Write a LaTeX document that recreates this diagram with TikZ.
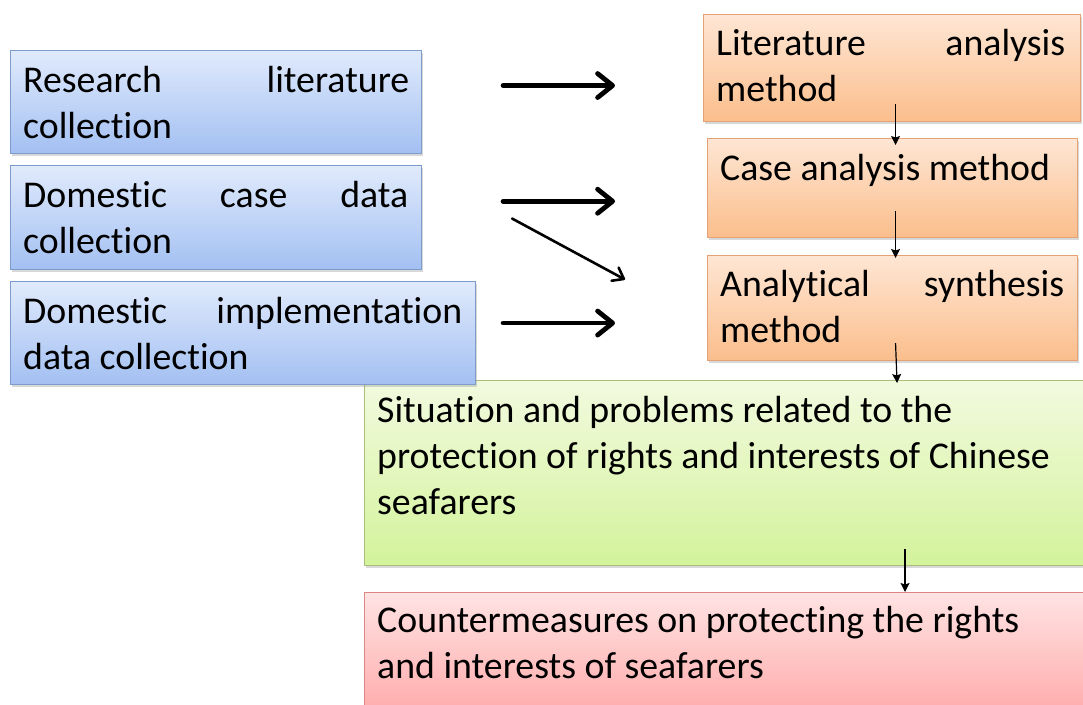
\documentclass[tikz,border=0pt]{standalone}
\usepackage{fontspec}
\setmainfont[Ligatures=NoCommon]{Carlito}
\usetikzlibrary{arrows.meta,shadows,calc}
\definecolor{bluetop}{HTML}{E0EAFC}
\definecolor{bluebot}{HTML}{A3C0F2}
\definecolor{blueedge}{HTML}{7E9CCB}
\definecolor{orgtop}{HTML}{FEE6D4}
\definecolor{orgbot}{HTML}{FBBE8C}
\definecolor{orgedge}{HTML}{E5A274}
\definecolor{grntop}{HTML}{F2FADF}
\definecolor{grnbot}{HTML}{D3F39B}
\definecolor{grnedge}{HTML}{A9BF7A}
\definecolor{redtop}{HTML}{FFE3E3}
\definecolor{redbot}{HTML}{FFA9A9}
\definecolor{rededge}{HTML}{DE8585}
\begin{document}
\begin{tikzpicture}[x=1pt,y=-1pt,
  box/.style={draw, line width=1.1pt, inner sep=0pt, anchor=north west,
    drop shadow={shadow xshift=1.5pt,shadow yshift=-2pt,opacity=0.3}},
  bluebox/.style={box, draw=blueedge, top color=bluetop, bottom color=bluebot},
  orgbox/.style={box, draw=orgedge, top color=orgtop, bottom color=orgbot},
  grnbox/.style={box, draw=grnedge, top color=grntop, bottom color=grnbot},
  redbox/.style={box, draw=rededge, top color=redtop, bottom color=redbot},
  lbl/.style={anchor=base west, inner sep=0pt, font=\fontsize{37.8}{46}\selectfont},
  bigarrow/.style={line width=4.8pt, line cap=round, -{Straight Barb[length=15pt,width=24pt,line width=4.8pt,line cap=round,line join=round]}},
  midarrow/.style={line width=2.6pt, line cap=round, -{Straight Barb[length=10pt,width=15pt,line width=2.6pt,line cap=round,line join=round]}},
  thinarrow/.style={line width=1.2pt, -{Stealth[length=9pt,width=9pt,inset=1.5pt]}}
]
\useasboundingbox (0,0) rectangle (1083,704);
\fill[white] (0,0) rectangle (1083,704);

% boxes
\node[orgbox, minimum width=377pt, minimum height=107pt] (O1) at (703,14) {};
\node[orgbox, minimum width=370pt, minimum height=99pt] (O2) at (707,138) {};
\node[orgbox, minimum width=370pt, minimum height=105pt] (O3) at (707,255) {};
\node[grnbox, minimum width=722pt, minimum height=185pt] (G) at (364,380) {};
\node[redbox, minimum width=722pt, minimum height=125pt] (R) at (364,592) {};
\node[bluebox, minimum width=411pt, minimum height=103pt] (B1) at (10,50) {};
\node[bluebox, minimum width=411pt, minimum height=104pt] (B2) at (10,165) {};
\node[bluebox, minimum width=465pt, minimum height=103pt] (B3) at (10,281) {};

% texts
\node[lbl] (T1) at ($(B1.north west)+(13,42)$) {\parbox[t]{386pt}{Research\hfill literature\\collection}};
\node[lbl] (T2) at ($(B2.north west)+(13,42)$) {\parbox[t]{385pt}{Domestic\hfill case\hfill data\\collection}};
\node[lbl] (T3) at ($(B3.north west)+(13,42)$) {\parbox[t]{439pt}{Domestic\hfill implementation\\data collection}};
\node[lbl] (T4) at ($(O1.north west)+(13,41)$) {\parbox[t]{349pt}{Literature\hfill analysis\\method}};
\node[lbl] (T5) at ($(O2.north west)+(13,42)$) {\parbox[t]{344pt}{Case analysis method}};
\node[lbl] (T6) at ($(O3.north west)+(13,41)$) {\parbox[t]{344pt}{Analytical\hfill synthesis\\method}};
\node[lbl] (T7) at ($(G.north west)+(13,42)$) {\parbox[t]{690pt}{Situation and problems related to the\\protection of rights and interests of Chinese\\seafarers}};
\node[lbl] (T8) at ($(R.north west)+(13,40)$) {\parbox[t]{690pt}{Countermeasures on protecting the rights\\and interests of seafarers}};

% connectors
\draw[bigarrow] ([xshift=81pt,yshift=16.5pt]B1.east) -- ([xshift=-88pt,yshift=-17.5pt]O1.west);
\draw[bigarrow] ([xshift=81pt,yshift=16.3pt]B2.east) -- ([xshift=-92pt,yshift=-13.2pt]O2.west);
\draw[midarrow] ([xshift=90pt,yshift=-1pt]B2.east) -- ([xshift=-82pt,yshift=28.5pt]O3.west);
\draw[bigarrow] ([xshift=27pt,yshift=10pt]B3.east) -- ([xshift=-92pt,yshift=-15pt]O3.west);

\draw[thinarrow] ([xshift=3.5pt,yshift=18pt]O1.south) -- ([xshift=3pt,yshift=-7pt]O2.north);
\draw[thinarrow] ([xshift=3pt,yshift=27pt]O2.south) -- ([xshift=3pt,yshift=-3pt]O3.north);
\draw[thinarrow] ([xshift=3pt,yshift=18pt]O3.south) -- ([xshift=171.5pt,yshift=-3pt]G.north);
\draw[thinarrow] ([xshift=179.5pt,yshift=17pt]G.south) -- ([xshift=179.5pt,yshift=0pt]R.north);
\end{tikzpicture}
\end{document}
